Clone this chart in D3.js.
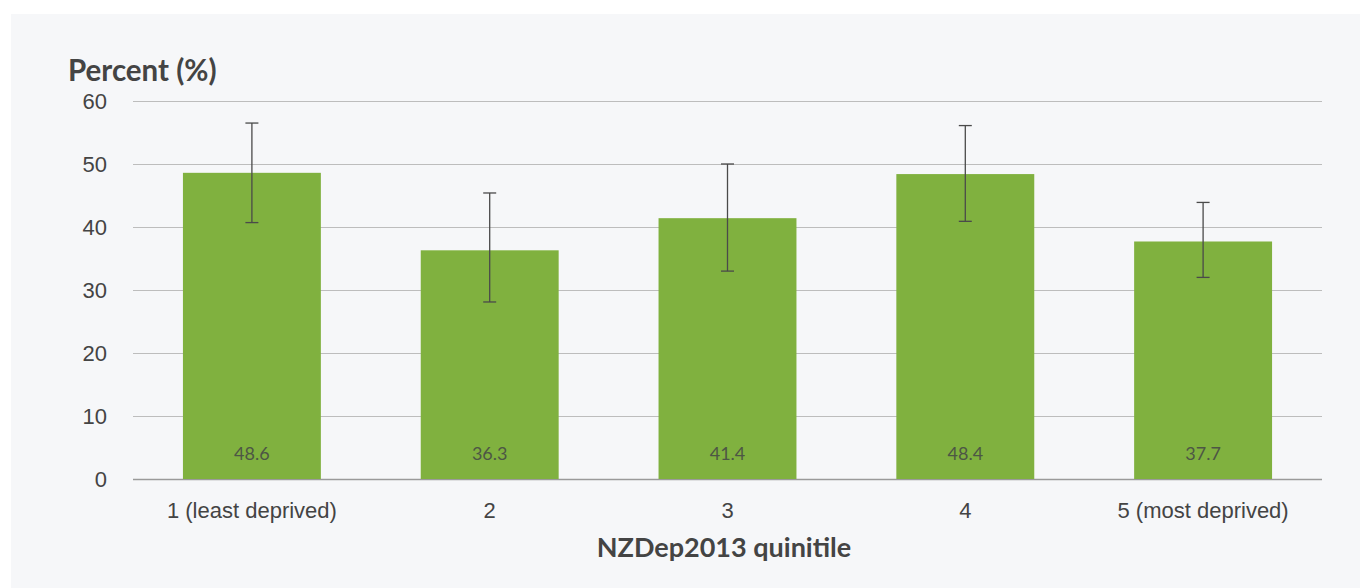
<!DOCTYPE html>
<html>
<head>
<meta charset="utf-8">
<script src="https://cdn.jsdelivr.net/npm/d3@7"></script>
<style>
  html, body { margin: 0; padding: 0; background: #ffffff; }
  svg { display: block; font-family: "Lato", "Open Sans", sans-serif; }
</style>
</head>
<body>
<svg id="chart" width="1360" height="588"></svg>
<script>
// data
const categories = ["1 (least deprived)", "2", "3", "4", "5 (most deprived)"];
const values = [48.6, 36.3, 41.4, 48.4, 37.7];
const lowerCI = [40.7, 28.1, 33.0, 40.9, 32.0];
const upperCI = [56.5, 45.4, 50.0, 56.1, 43.9];
const yTicks = [0, 10, 20, 30, 40, 50, 60];

const width = 1360;
const height = 588;
const margin = { top: 101, right: 38, bottom: 109, left: 133 };

const svg = d3.select("#chart");

// light panel behind the chart
svg.append("rect")
  .attr("x", 11)
  .attr("y", 14)
  .attr("width", width - 11)
  .attr("height", height - 14)
  .attr("fill", "#f6f7f9");

const x = d3
  .scaleBand()
  .domain(categories)
  .range([margin.left, width - margin.right])
  .paddingInner(0.42)
  .paddingOuter(0.21);

const y = d3
  .scaleLinear()
  .domain([0, 60])
  .range([height - margin.bottom, margin.top]);

// gridlines + y labels
const yAxis = svg.append("g")
  .attr("class", "y-axis")
  .attr("transform", `translate(${margin.left},0)`)
  .call(
    d3.axisLeft(y)
      .tickValues(yTicks)
      .tickSize(-(width - margin.left - margin.right))
      .tickPadding(26)
  );

yAxis.select(".domain").remove();
yAxis.selectAll(".tick line")
  .attr("stroke", (d) => (d === 0 ? "#9a9a9a" : "#bdbdbd"))
  .attr("stroke-width", (d) => (d === 0 ? 1.5 : 1));
yAxis.selectAll(".tick text")
  .attr("fill", "#444")
  .attr("font-size", 22);

// bars
svg.append("g")
  .selectAll("rect")
  .data(values)
  .join("rect")
  .attr("x", (d, i) => x(categories[i]))
  .attr("y", (d) => y(d))
  .attr("width", x.bandwidth())
  .attr("height", (d) => y(0) - y(d))
  .attr("fill", "#80b13f");

// value labels inside the bars
svg.append("g")
  .selectAll("text")
  .data(values)
  .join("text")
  .attr("x", (d, i) => x(categories[i]) + x.bandwidth() / 2)
  .attr("y", y(0) - 19)
  .attr("text-anchor", "middle")
  .attr("fill", "#4d5645")
  .attr("font-size", 18)
  .text((d) => d.toFixed(1));

// error bars
const errs = svg.append("g").attr("stroke", "#4a4a4a").attr("stroke-width", 1.3);
categories.forEach((c, i) => {
  const cx = x(c) + x.bandwidth() / 2;
  errs.append("line")
    .attr("x1", cx).attr("x2", cx)
    .attr("y1", y(lowerCI[i])).attr("y2", y(upperCI[i]));
  errs.append("line")
    .attr("x1", cx - 6.5).attr("x2", cx + 6.5)
    .attr("y1", y(upperCI[i])).attr("y2", y(upperCI[i]));
  errs.append("line")
    .attr("x1", cx - 6.5).attr("x2", cx + 6.5)
    .attr("y1", y(lowerCI[i])).attr("y2", y(lowerCI[i]));
});

// x axis labels
const xAxis = svg.append("g")
  .attr("class", "x-axis")
  .attr("transform", `translate(0,${height - margin.bottom})`)
  .call(d3.axisBottom(x).tickSize(0).tickPadding(23));
xAxis.select(".domain").remove();
xAxis.selectAll(".tick text")
  .attr("fill", "#444")
  .attr("font-size", 22);

// axis titles
svg.append("text")
  .attr("x", 68)
  .attr("y", 81)
  .attr("fill", "#444")
  .attr("font-size", 29.5)
  .attr("font-weight", "bold")
  .text("Percent (%)");

svg.append("text")
  .attr("x", 724)
  .attr("y", 557)
  .attr("text-anchor", "middle")
  .attr("fill", "#444")
  .attr("font-size", 27)
  .attr("font-weight", "bold")
  .text("NZDep2013 quinitile");
</script>
</body>
</html>
